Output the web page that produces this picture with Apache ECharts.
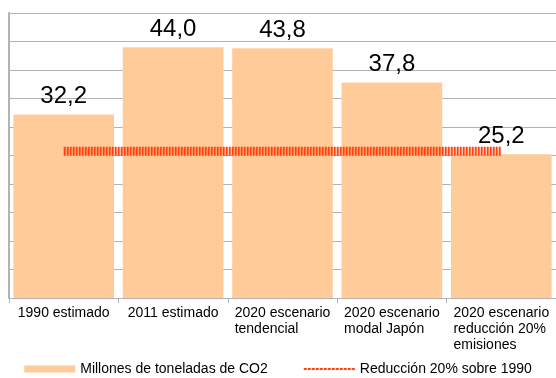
<!DOCTYPE html>
<html>
<head>
<meta charset="utf-8">
<script src="https://cdn.jsdelivr.net/npm/echarts@6/dist/echarts.min.js"></script>
<style>
  html, body { margin: 0; padding: 0; background: #fff; }
  #chart { width: 556px; height: 378px; }
</style>
</head>
<body>
<div id="chart"></div>
<script>
// Emisiones de CO2 (millones de toneladas) por escenario
const categories = [
  ['1990 estimado'],
  ['2011 estimado'],
  ['2020 escenario', 'tendencial'],
  ['2020 escenario', 'modal Japón'],
  ['2020 escenario', 'reducción 20%', 'emisiones']
];
const emissions = [32.2, 44.0, 43.8, 37.8, 25.2];
// Objetivo: 20 % por debajo del valor de 1990
const target = [25.76, 25.76, 25.76, 25.76, 25.76];

const barName = 'Millones de toneladas de CO2';
const lineName = 'Reducción 20% sobre 1990';

const font = '"Liberation Sans", Arial, sans-serif';
const barColor = '#FFCC99';
const lineColor = '#FF420E';
const gridColor = '#b3b3b3';

const chart = echarts.init(document.getElementById('chart'), null, { renderer: 'canvas' });

chart.setOption({
  animation: false,
  backgroundColor: '#fff',
  textStyle: { fontFamily: font },
  grid: { left: 9, right: -3, top: 13, bottom: 80, containLabel: false },
  legend: {
    bottom: -3,
    left: 'center',
    itemWidth: 51,
    itemHeight: 7,
    itemGap: 35,
    textStyle: { fontFamily: font, fontSize: 14, color: '#000' },
    data: [
      { name: barName, icon: 'rect' },
      {
        name: lineName,
        lineStyle: { width: 2, type: [3, 1] },
        itemStyle: { opacity: 0 }
      }
    ]
  },
  xAxis: {
    type: 'category',
    data: categories.map(c => c.join('\n')),
    axisLine: { lineStyle: { color: gridColor, width: 1 } },
    axisTick: { show: true, length: 5, lineStyle: { color: gridColor } },
    axisLabel: {
      margin: 7,
      interval: 0,
      fontFamily: font,
      fontSize: 14,
      color: '#000',
      lineHeight: 16,
      formatter: v => v.split('\n').map(s => '{l|' + s + '}').join('\n'),
      rich: { l: { align: 'left', fontFamily: font, fontSize: 14, color: '#000', lineHeight: 16 } }
    }
  },
  yAxis: {
    type: 'value',
    min: 0,
    max: 50,
    interval: 5,
    axisLabel: { show: false },
    axisTick: { show: false },
    axisLine: { show: true, lineStyle: { color: gridColor, width: 2 } },
    splitLine: { lineStyle: { color: gridColor, width: 1 } }
  },
  series: [
    {
      name: barName,
      type: 'bar',
      data: emissions,
      barCategoryGap: '8%',
      itemStyle: { color: barColor },
      label: {
        show: true,
        position: 'top',
        distance: 6,
        fontFamily: font,
        fontSize: 24,
        color: '#000',
        formatter: p => p.value.toFixed(1).replace('.', ',')
      },
      z: 2
    },
    {
      name: lineName,
      type: 'line',
      data: target,
      symbol: 'none',
      itemStyle: { color: lineColor },
      lineStyle: { color: lineColor, width: 9, type: [2, 1], cap: 'butt' },
      z: 3
    }
  ]
});
</script>
</body>
</html>
